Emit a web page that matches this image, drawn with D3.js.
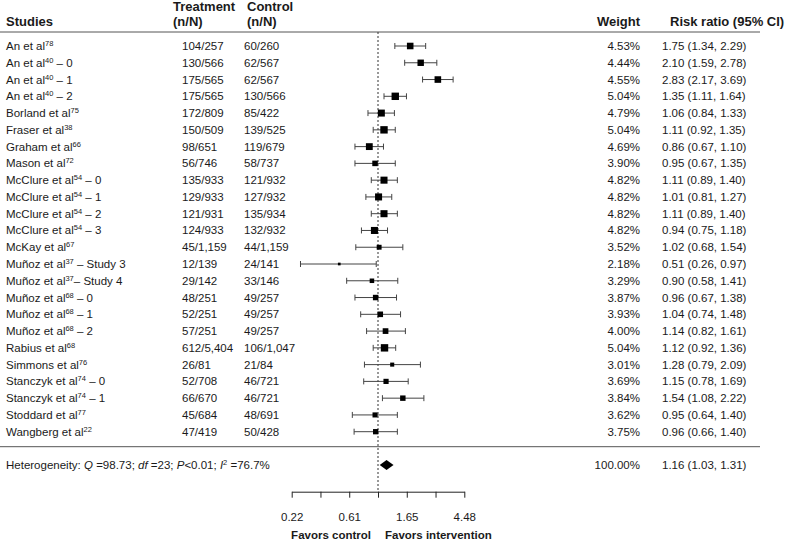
<!DOCTYPE html>
<html>
<head>
<meta charset="utf-8">
<script src="https://cdn.jsdelivr.net/npm/d3@7"></script>
<style>
  body { margin: 0; background: #fff; }
  svg { display: block; font-family: 'Liberation Sans', Arial, sans-serif; }
</style>
</head>
<body>
<div id="forest"></div>
<script>
// study labels: name, reference (superscript), suffix
const studyNames = ['An et al', 'An et al', 'An et al', 'An et al', 'Borland et al', 'Fraser et al',
  'Graham et al', 'Mason et al', 'McClure et al', 'McClure et al', 'McClure et al', 'McClure et al',
  'McKay et al', 'Muñoz et al', 'Muñoz et al', 'Muñoz et al', 'Muñoz et al', 'Muñoz et al',
  'Rabius et al', 'Simmons et al', 'Stanczyk et al', 'Stanczyk et al', 'Stoddard et al', 'Wangberg et al']
const studyRefs = ['78', '40', '40', '40', '75', '38', '66', '72', '54', '54', '54', '54',
  '67', '37', '37', '68', '68', '68', '68', '76', '74', '74', '77', '22']
const studySuffix = ['', ' – 0', ' – 1', ' – 2', '', '', '', '', ' – 0', ' – 1', ' – 2', ' – 3',
  '', ' – Study 3', '– Study 4', ' – 0', ' – 1', ' – 2', '', '', ' – 0', ' – 1', '', '']
const treatment = ['104/257', '130/566', '175/565', '175/565', '172/809', '150/509', '98/651', '56/746',
  '135/933', '129/933', '121/931', '124/933', '45/1,159', '12/139', '29/142', '48/251', '52/251',
  '57/251', '612/5,404', '26/81', '52/708', '66/670', '45/684', '47/419']
const control = ['60/260', '62/567', '62/567', '130/566', '85/422', '139/525', '119/679', '58/737',
  '121/932', '127/932', '135/934', '132/932', '44/1,159', '24/141', '33/146', '49/257', '49/257',
  '49/257', '106/1,047', '21/84', '46/721', '46/721', '48/691', '50/428']
const weights = [4.53, 4.44, 4.55, 5.04, 4.79, 5.04, 4.69, 3.90, 4.82, 4.82, 4.82, 4.82,
  3.52, 2.18, 3.29, 3.87, 3.93, 4.00, 5.04, 3.01, 3.69, 3.84, 3.62, 3.75]
const riskRatio = [1.75, 2.10, 2.83, 1.35, 1.06, 1.11, 0.86, 0.95, 1.11, 1.01, 1.11, 0.94,
  1.02, 0.51, 0.90, 0.96, 1.04, 1.14, 1.12, 1.28, 1.15, 1.54, 0.95, 0.96]
const ciLower = [1.34, 1.59, 2.17, 1.11, 0.84, 0.92, 0.67, 0.67, 0.89, 0.81, 0.89, 0.75,
  0.68, 0.26, 0.58, 0.67, 0.74, 0.82, 0.92, 0.79, 0.78, 1.08, 0.64, 0.66]
const ciUpper = [2.29, 2.78, 3.69, 1.64, 1.33, 1.35, 1.10, 1.35, 1.40, 1.27, 1.40, 1.18,
  1.54, 0.97, 1.41, 1.38, 1.48, 1.61, 1.36, 2.09, 1.69, 2.22, 1.40, 1.40]

// pooled estimate
const pooled = [1.16, 1.03, 1.31]
const pooledWeight = '100.00%'
const hetQ = '98.73'
const hetDf = '23'
const hetP = '<0.01'
const hetI2 = '76.7%'

// axis ticks (natural log steps) and their labels
const tickLogs = [-1.5, -1, -0.5, 0, 0.5, 1, 1.5]
const tickLabels = ['0.22', '', '0.61', '', '1.65', '', '4.48']

const width = 788
const height = 540
const fmt = d3.format('.2f')
const n = studyNames.length
const fontSize = 11.5

const svg = d3.select('#forest').append('svg')
  .attr('width', width)
  .attr('height', height)

const x = d3.scaleLog()
  .domain([Math.exp(-1.5), Math.exp(1.5)])
  .range([291.7, 464.3])
const y = d3.scaleLinear().domain([0, n - 1]).range([46, 431.7])
const side = d3.scaleLinear().domain([2.18, 5.04]).range([2.7, 7.4])

const textColor = '#1a1a1a'
const lineColor = '#555'

// headers
const header = svg.append('g')
  .attr('font-size', 13)
  .attr('font-weight', 'bold')
  .attr('fill', textColor)
header.append('text').attr('x', 6).attr('y', 26).text('Studies')
header.append('text').attr('x', 173).attr('y', 10.5).text('Treatment')
header.append('text').attr('x', 173).attr('y', 26).text('(n/N)')
header.append('text').attr('x', 247).attr('y', 10.5).text('Control')
header.append('text').attr('x', 247).attr('y', 26).text('(n/N)')
header.append('text').attr('x', 640).attr('y', 26).attr('text-anchor', 'end').text('Weight')
header.append('text').attr('x', 670).attr('y', 26).text('Risk ratio (95% CI)')

// rule lines
svg.append('line')
  .attr('x1', 0).attr('x2', 760).attr('y1', 32).attr('y2', 32)
  .attr('stroke', lineColor).attr('stroke-width', 1)
svg.append('line')
  .attr('x1', 0).attr('x2', 760).attr('y1', 446.7).attr('y2', 446.7)
  .attr('stroke', lineColor).attr('stroke-width', 1)

// null line
svg.append('line')
  .attr('x1', x(1)).attr('x2', x(1))
  .attr('y1', 32).attr('y2', 492)
  .attr('stroke', '#333')
  .attr('stroke-dasharray', '2,2')

// study rows
const rows = svg.append('g').attr('font-size', fontSize).attr('fill', textColor)
  .selectAll('g')
  .data(d3.range(n))
  .join('g')
  .attr('transform', i => `translate(0,${y(i)})`)

const label = rows.append('text').attr('x', 6).attr('y', 4)
label.append('tspan').text(i => studyNames[i])
label.append('tspan')
  .attr('font-size', 7.5)
  .attr('dy', -4)
  .text(i => studyRefs[i])
label.append('tspan')
  .attr('dy', 4)
  .text(i => studySuffix[i])

rows.append('text').attr('x', 182).attr('y', 4).text(i => treatment[i])
rows.append('text').attr('x', 244).attr('y', 4).text(i => control[i])
rows.append('text').attr('x', 640).attr('y', 4).attr('text-anchor', 'end')
  .text(i => fmt(weights[i]) + '%')
rows.append('text').attr('x', 662).attr('y', 4)
  .text(i => `${fmt(riskRatio[i])} (${fmt(ciLower[i])}, ${fmt(ciUpper[i])})`)

// whiskers
rows.append('line')
  .attr('x1', i => x(ciLower[i])).attr('x2', i => x(ciUpper[i]))
  .attr('stroke', '#444')
rows.append('line')
  .attr('x1', i => x(ciLower[i])).attr('x2', i => x(ciLower[i]))
  .attr('y1', -3).attr('y2', 3)
  .attr('stroke', '#444')
rows.append('line')
  .attr('x1', i => x(ciUpper[i])).attr('x2', i => x(ciUpper[i]))
  .attr('y1', -3).attr('y2', 3)
  .attr('stroke', '#444')
rows.append('rect')
  .attr('x', i => x(riskRatio[i]) - side(weights[i]) / 2)
  .attr('y', i => -side(weights[i]) / 2)
  .attr('width', i => side(weights[i]))
  .attr('height', i => side(weights[i]))
  .attr('fill', '#000')

// pooled row
const yPool = 465
const het = svg.append('text')
  .attr('x', 6).attr('y', yPool + 4)
  .attr('font-size', fontSize).attr('fill', textColor)
het.append('tspan').text('Heterogeneity: ')
het.append('tspan').attr('font-style', 'italic').text('Q')
het.append('tspan').text(` =${hetQ}; `)
het.append('tspan').attr('font-style', 'italic').text('df')
het.append('tspan').text(` =${hetDf}; `)
het.append('tspan').attr('font-style', 'italic').text('P')
het.append('tspan').text(`${hetP}; `)
het.append('tspan').attr('font-style', 'italic').text('I')
het.append('tspan').attr('font-size', 7.5).attr('dy', -4).text('2')
het.append('tspan').attr('dy', 4).text(` =${hetI2}`)

svg.append('path')
  .attr('d', d3.line()([
    [x(pooled[1]), yPool], [x(pooled[0]), yPool - 5],
    [x(pooled[2]), yPool], [x(pooled[0]), yPool + 5]
  ]) + 'Z')
  .attr('fill', '#000')

svg.append('text')
  .attr('x', 640).attr('y', yPool + 4).attr('text-anchor', 'end')
  .attr('font-size', fontSize).attr('fill', textColor)
  .text(pooledWeight)
svg.append('text')
  .attr('x', 662).attr('y', yPool + 4)
  .attr('font-size', fontSize).attr('fill', textColor)
  .text(`${fmt(pooled[0])} (${fmt(pooled[1])}, ${fmt(pooled[2])})`)

// axis
const axis = d3.axisBottom(x)
  .tickValues(tickLogs.map(Math.exp))
  .tickFormat((d, i) => tickLabels[i])
  .tickSize(6)
  .tickSizeOuter(0)
  .tickPadding(15)
const gAxis = svg.append('g')
  .attr('transform', 'translate(0,491.7)')
  .call(axis)
gAxis.select('.domain').attr('stroke', '#222')
gAxis.selectAll('.tick line').attr('stroke', '#222')
gAxis.selectAll('.tick text')
  .attr('font-size', fontSize)
  .attr('font-family', "'Liberation Sans', Arial, sans-serif")
  .attr('fill', textColor)

svg.append('text')
  .attr('x', x(1) - 7).attr('y', 539)
  .attr('text-anchor', 'end')
  .attr('font-size', 11.5).attr('font-weight', 'bold').attr('fill', textColor)
  .text('Favors control')
svg.append('text')
  .attr('x', x(1) + 7).attr('y', 539)
  .attr('font-size', 11.5).attr('font-weight', 'bold').attr('fill', textColor)
  .text('Favors intervention')
</script>
</body>
</html>
